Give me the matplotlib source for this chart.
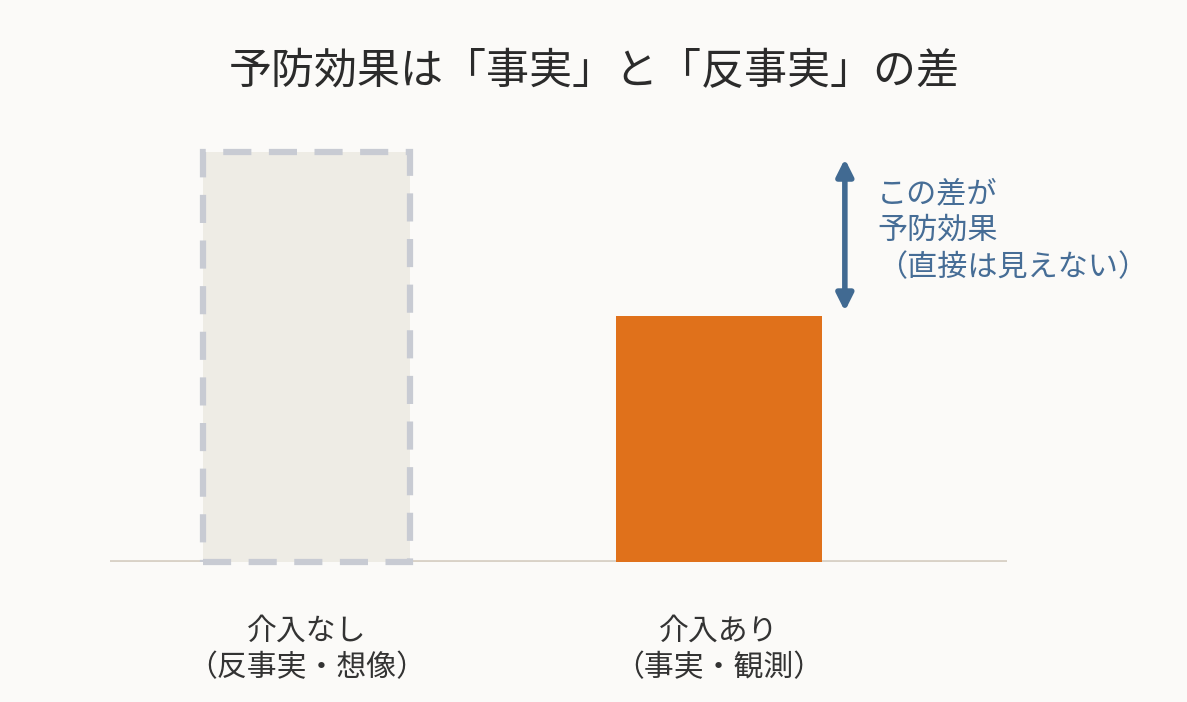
import matplotlib.pyplot as plt
from matplotlib.patches import FancyArrowPatch

plt.rcParams["font.family"] = ["Noto Sans CJK JP", "DejaVu Sans"]

categories = ["介入なし\n（反事実・想像）", "介入あり\n（事実・観測）"]
values = [100, 60]
title = "予防効果は「事実」と「反事実」の差"
note = "この差が\n予防効果\n（直接は見えない）"

W, H = 1187, 702
fig = plt.figure(figsize=(W / 100, H / 100), dpi=100, facecolor="#fbfaf8")

# axes in pixel coords: baseline at y=562, x from 110 to 1007
left, right, base, top = 110, 1007, 562, 112
ax = fig.add_axes([left / W, (H - base) / H, (right - left) / W, (base - top) / H])
ax.set_facecolor("#fbfaf8")
ax.set_xlim(-0.476, 1.698)
ax.set_ylim(0, (base - top) / 4.1)
ax.axis("off")

ax.axhline(0, color="#d9d2c7", lw=3.5, zorder=1)

ax.bar(0, values[0], width=0.5, color="#eeece5", edgecolor="#c8cbd3",
       linewidth=4.5, linestyle=(0, (4.5, 2.8)), zorder=2, clip_on=False)
ax.bar(1, values[1], width=0.5, color="#e0711b", zorder=2)

arrow = FancyArrowPatch((1.305, values[1] + 0.5), (1.305, values[0] - 1),
                        arrowstyle="<|-|>,head_length=10,head_width=5",
                        mutation_scale=1, color="#416a92", lw=4, zorder=3)
ax.add_patch(arrow)

ax.text(1.383, values[0] - 6.3, note, fontsize=21.7, color="#466d96",
        va="top", ha="left", linespacing=1.26)

for i, lab in enumerate(categories):
    ax.text(i, -13.2, lab, fontsize=21.5, color="#333333", ha="center",
            va="top", linespacing=1.2, clip_on=False)

fig.text(594 / W, 1 - 72 / H, title, fontsize=31, color="#2b2b2b",
         ha="center", va="center")

fig.savefig("out.png", dpi=100, facecolor=fig.get_facecolor())
